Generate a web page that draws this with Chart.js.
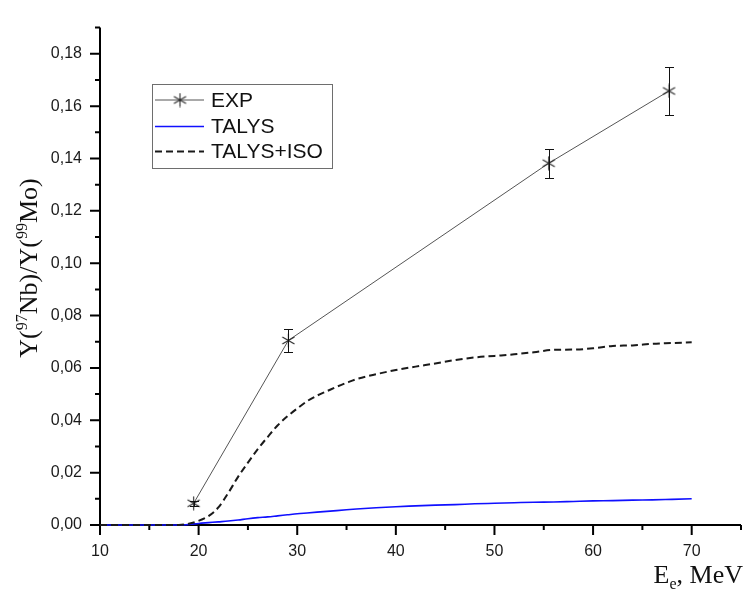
<!DOCTYPE html>
<html>
<head>
<meta charset="utf-8">
<script src="https://cdn.jsdelivr.net/npm/chart.js@4/dist/chart.umd.min.js"></script>
<style>
  html, body { margin: 0; padding: 0; background: #ffffff; }
  #wrap { width: 748px; height: 593px; }
</style>
</head>
<body>
<div id="wrap"><canvas id="chart" width="748" height="593"></canvas></div>
<script>
// Measured yield ratio Y(97Nb)/Y(99Mo) vs. electron energy
const expEnergy = [19.5, 29.1, 55.5, 67.7];
const expRatio  = [0.0083, 0.0705, 0.1382, 0.1658];
const expError  = [0.001, 0.0045, 0.0056, 0.009];

// TALYS calculations on a common energy grid (MeV)
const modelEnergy = [10, 12, 14, 16, 18,
  19, 20, 21, 22, 23, 24, 25, 26, 27, 28, 29, 30, 31, 32, 33, 34, 35, 36,
  38, 40, 42, 44, 46, 48, 50, 52, 54, 56, 58, 60, 62, 64, 66, 68, 70];
const talys = [0, 0, 0, 0, 0,
  0.0002, 0.0006, 0.0009, 0.0012, 0.0015, 0.0019, 0.0024, 0.0028, 0.0031, 0.0035, 0.0039, 0.0043, 0.0046, 0.0049, 0.0052, 0.0055, 0.0058, 0.0061,
  0.0066, 0.0070, 0.0073, 0.0076, 0.0078, 0.0081, 0.0083, 0.0085, 0.0087, 0.0088, 0.0090, 0.0092, 0.0093, 0.0095, 0.0096, 0.0098, 0.0100];
const talysIso = [0, 0, 0, 0, 0,
  0.0005, 0.0016, 0.0034, 0.0067, 0.0122, 0.0184, 0.0238, 0.0290, 0.0336, 0.0380, 0.0415, 0.0445, 0.0473, 0.0494, 0.0511, 0.0528, 0.0543, 0.0557,
  0.0576, 0.0592, 0.0605, 0.0617, 0.0630, 0.0640, 0.0646, 0.0652, 0.0660, 0.0669, 0.0670, 0.0675, 0.0684, 0.0686, 0.0692, 0.0695, 0.0698];

const seriesLabels = ['EXP', 'TALYS', 'TALYS+ISO'];

// Axis ticks
const xMajorTicks = [10, 20, 30, 40, 50, 60, 70];
const xMinorTicks = [15, 25, 35, 45, 55, 65, 75];
const yMajorTicks = [0, 0.02, 0.04, 0.06, 0.08, 0.10, 0.12, 0.14, 0.16, 0.18];
const yMinorTicks = [0.01, 0.03, 0.05, 0.07, 0.09, 0.11, 0.13, 0.15, 0.17, 0.19];

// Six-armed asterisk marker
function asteriskMarker(r, color) {
  const size = 2 * r + 1;
  const c = document.createElement('canvas');
  c.width = size; c.height = size;
  const g = c.getContext('2d');
  g.translate(size / 2, size / 2);
  g.strokeStyle = color;
  g.lineWidth = 1.1;
  [90, 30, -30].forEach(deg => {
    const a = deg * Math.PI / 180;
    g.beginPath();
    g.moveTo(r * Math.cos(a), -r * Math.sin(a));
    g.lineTo(-r * Math.cos(a), r * Math.sin(a));
    g.stroke();
  });
  return c;
}
const marker = asteriskMarker(7, '#2a2a2a');

const pairs = (xs, ys) => xs.map((x, i) => ({ x: x, y: ys[i] }));

// Axis lines and major/minor tick marks
const axesPlugin = {
  id: 'axesFrame',
  beforeDatasetsDraw(chart) {
    const { ctx, chartArea: a, scales: { x, y } } = chart;
    ctx.save();
    ctx.strokeStyle = '#000';
    ctx.lineWidth = 2;
    ctx.beginPath();
    ctx.moveTo(a.left, a.top);
    ctx.lineTo(a.left, a.bottom);
    ctx.lineTo(a.right, a.bottom);
    ctx.stroke();
    ctx.beginPath();
    xMajorTicks.forEach(v => { const px = x.getPixelForValue(v); ctx.moveTo(px, a.bottom); ctx.lineTo(px, a.bottom + 10); });
    xMinorTicks.forEach(v => { const px = x.getPixelForValue(v); ctx.moveTo(px, a.bottom); ctx.lineTo(px, a.bottom + 5); });
    yMajorTicks.forEach(v => { const py = y.getPixelForValue(v); ctx.moveTo(a.left, py); ctx.lineTo(a.left - 10, py); });
    yMinorTicks.forEach(v => { const py = y.getPixelForValue(v); ctx.moveTo(a.left, py); ctx.lineTo(a.left - 5, py); });
    ctx.stroke();
    ctx.restore();
  }
};

// Vertical error bars on the measured points
const errorBarPlugin = {
  id: 'errorBars',
  afterDatasetsDraw(chart) {
    const { ctx, scales: { x, y } } = chart;
    ctx.save();
    ctx.strokeStyle = '#111';
    ctx.lineWidth = 1;
    expEnergy.forEach((e, i) => {
      const px = Math.round(x.getPixelForValue(e)) + 0.5;
      const top = Math.round(y.getPixelForValue(expRatio[i] + expError[i])) + 0.5;
      const bot = Math.round(y.getPixelForValue(expRatio[i] - expError[i])) + 0.5;
      ctx.beginPath();
      ctx.moveTo(px, top); ctx.lineTo(px, bot);
      ctx.moveTo(px - 4.5, top); ctx.lineTo(px + 4.5, top);
      ctx.moveTo(px - 4.5, bot); ctx.lineTo(px + 4.5, bot);
      ctx.stroke();
    });
    ctx.restore();
  }
};

// Framed legend inside the plot and the two axis titles
const decorPlugin = {
  id: 'decor',
  afterDraw(chart) {
    const ctx = chart.ctx;
    ctx.save();

    // legend
    ctx.strokeStyle = '#6e6e6e';
    ctx.lineWidth = 1;
    ctx.strokeRect(152.5, 84.5, 180, 84);
    const rows = [100, 126.5, 151.5];
    const ds = chart.data.datasets;
    ctx.font = '21px "Liberation Sans", Arial, sans-serif';
    ctx.textBaseline = 'middle';
    ctx.fillStyle = '#111';
    rows.forEach((ry, i) => {
      const d = ds[i];
      ctx.save();
      ctx.strokeStyle = d.borderColor;
      ctx.lineWidth = d.borderWidth;
      ctx.setLineDash(d.borderDash || []);
      ctx.beginPath();
      ctx.moveTo(155, ry); ctx.lineTo(204, ry);
      ctx.stroke();
      ctx.restore();
      if (i === 0) ctx.drawImage(marker, 180 - marker.width / 2, ry - marker.height / 2);
      ctx.fillText(d.label, 211, ry + 1);
    });

    // y axis title, rotated, with mass-number superscripts
    const big = '26px "Liberation Serif", "Times New Roman", serif';
    const small = '16px "Liberation Serif", "Times New Roman", serif';
    const parts = [['Y(', big, 0], ['97', small, -10], ['Nb)/Y(', big, 0], ['99', small, -10], ['Mo)', big, 0]];
    let total = 0;
    parts.forEach(p => { ctx.font = p[1]; total += ctx.measureText(p[0]).width; });
    ctx.translate(37, 268);
    ctx.rotate(-Math.PI / 2);
    ctx.textBaseline = 'alphabetic';
    ctx.textAlign = 'left';
    ctx.fillStyle = '#111';
    let cx = -total / 2;
    parts.forEach(p => { ctx.font = p[1]; ctx.fillText(p[0], cx, p[2]); cx += ctx.measureText(p[0]).width; });
    ctx.setTransform(1, 0, 0, 1, 0, 0);

    // x axis title with subscript
    const xp = [['E', big, 0], ['e', small, 6], [', MeV', big, 0]];
    let w = 0;
    xp.forEach(p => { ctx.font = p[1]; w += ctx.measureText(p[0]).width; });
    let tx = 743 - w;
    xp.forEach(p => { ctx.font = p[1]; ctx.fillText(p[0], tx, 583 + p[2]); tx += ctx.measureText(p[0]).width; });

    ctx.restore();
  }
};

new Chart(document.getElementById('chart'), {
  type: 'line',
  data: {
    datasets: [
      {
        label: seriesLabels[0],
        data: pairs(expEnergy, expRatio),
        borderColor: '#555555',
        borderWidth: 1,
        pointStyle: marker,
        pointRadius: 7,
        tension: 0,
        clip: false,
        order: 0
      },
      {
        label: seriesLabels[1],
        data: pairs(modelEnergy, talys),
        borderColor: '#1010ff',
        borderWidth: 1.6,
        pointRadius: 0,
        cubicInterpolationMode: 'monotone',
        clip: false,
        order: 2
      },
      {
        label: seriesLabels[2],
        data: pairs(modelEnergy, talysIso),
        borderColor: '#1a1a1a',
        borderWidth: 2,
        borderDash: [7, 4],
        pointRadius: 0,
        cubicInterpolationMode: 'monotone',
        clip: false,
        order: 1
      }
    ]
  },
  options: {
    responsive: false,
    animation: false,
    devicePixelRatio: 1,
    layout: { autoPadding: false, padding: { left: 0, right: 7, top: 8, bottom: 0 } },
    plugins: { legend: { display: false }, tooltip: { enabled: false } },
    scales: {
      x: {
        type: 'linear',
        min: 10, max: 75,
        grid: { display: false, drawTicks: false },
        border: { display: false },
        afterBuildTicks: s => { s.ticks = xMajorTicks.map(v => ({ value: v })); },
        afterFit: s => { s.height = 68; },
        ticks: {
          padding: 17,
          maxRotation: 0,
          color: '#1a1a1a',
          font: { family: '"Liberation Sans", Arial, sans-serif', size: 16 },
          callback: v => String(v)
        }
      },
      y: {
        type: 'linear',
        min: 0, max: 0.19,
        grid: { display: false, drawTicks: false },
        border: { display: false },
        afterBuildTicks: s => { s.ticks = yMajorTicks.map(v => ({ value: v })); },
        afterFit: s => { s.width = 100; },
        ticks: {
          padding: 18,
          color: '#1a1a1a',
          font: { family: '"Liberation Sans", Arial, sans-serif', size: 16 },
          callback: v => v.toFixed(2).replace('.', ',')
        }
      }
    }
  },
  plugins: [axesPlugin, errorBarPlugin, decorPlugin]
});
</script>
</body>
</html>
